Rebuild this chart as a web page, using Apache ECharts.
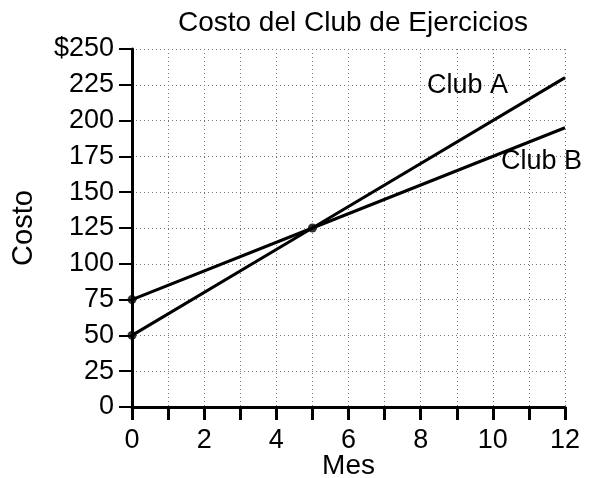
<!DOCTYPE html>
<html><head><meta charset="utf-8">
<script src="https://cdn.jsdelivr.net/npm/echarts@6/dist/echarts.min.js"></script>
<style>html,body{margin:0;padding:0;background:#fff}#c{width:589px;height:478px}</style>
</head><body><div id="c"></div>
<script>
const titleText = 'Costo del Club de Ejercicios';
const clubA = [[0, 50], [5, 125], [12, 230]];
const clubB = [[0, 75], [5, 125], [12, 195]];
const dots = [[0, 50], [0, 75], [5, 125]];
const seriesLabels = [{name: 'Club A', pos: [9.31, 224]}, {name: 'Club B', pos: [11.36, 171]}];
const xLabels = [0, 2, 4, 6, 8, 10, 12];
const yLabels = ['0','25','50','75','100','125','150','175','200','225','$250'];
const F = 'Liberation Sans, Arial, sans-serif';
const chart = echarts.init(document.getElementById('c'));
chart.setOption({
  animation: false,
  title: {text: titleText, left: 348, top: 4, textAlign: 'center',
    textStyle: {fontFamily: F, fontSize: 28, fontWeight: 'normal', color: '#000'}},
  grid: {left: 132, right: 24, top: 49, bottom: 71, containLabel: false, outerBoundsMode: 'none'},
  xAxis: {type: 'value', min: 0, max: 12, interval: 1,
    name: 'Mes', nameLocation: 'middle', nameGap: 45, nameMoveOverlap: false,
    nameTextStyle: {fontFamily: F, fontSize: 28, color: '#000'},
    axisLine: {onZero: false, lineStyle: {color: '#000', width: 3}},
    axisTick: {length: 13, lineStyle: {color: '#000', width: 3}},
    axisLabel: {fontFamily: F, fontSize: 27, color: '#000', margin: 20,
      formatter: v => xLabels.includes(v) ? String(v) : ''},
    splitLine: {show: true, lineStyle: {color: '#777', type: [1, 3], width: 1}}},
  yAxis: {type: 'value', min: 0, max: 250, interval: 25,
    name: 'Costo', nameLocation: 'middle', nameGap: 94, nameMoveOverlap: false,
    nameTextStyle: {fontFamily: F, fontSize: 29, color: '#000'},
    axisLine: {show: true, lineStyle: {color: '#000', width: 3}},
    axisTick: {show: true, length: 13, lineStyle: {color: '#000', width: 2}},
    axisLabel: {fontFamily: F, fontSize: 27, color: '#000', margin: 18,
      formatter: v => yLabels[Math.round(v / 25)]},
    splitLine: {show: true, lineStyle: {color: '#777', type: [1, 3], width: 1}}},
  series: [
    {type: 'line', data: clubA, showSymbol: false, lineStyle: {color: '#000', width: 3}, z: 3},
    {type: 'line', data: clubB, showSymbol: false, lineStyle: {color: '#000', width: 3}, z: 3},
    {type: 'scatter', data: dots, symbolSize: 9, itemStyle: {color: '#000'}, z: 4},
    {type: 'scatter', symbolSize: 1, itemStyle: {opacity: 0}, z: 5, silent: true,
      data: seriesLabels.map(d => ({value: d.pos, name: d.name})),
      label: {show: true, position: [0, 0], align: 'center', verticalAlign: 'middle',
        formatter: p => p.name, fontFamily: F, fontSize: 27, color: '#000', opacity: 1}}
  ]
});
</script></body></html>
